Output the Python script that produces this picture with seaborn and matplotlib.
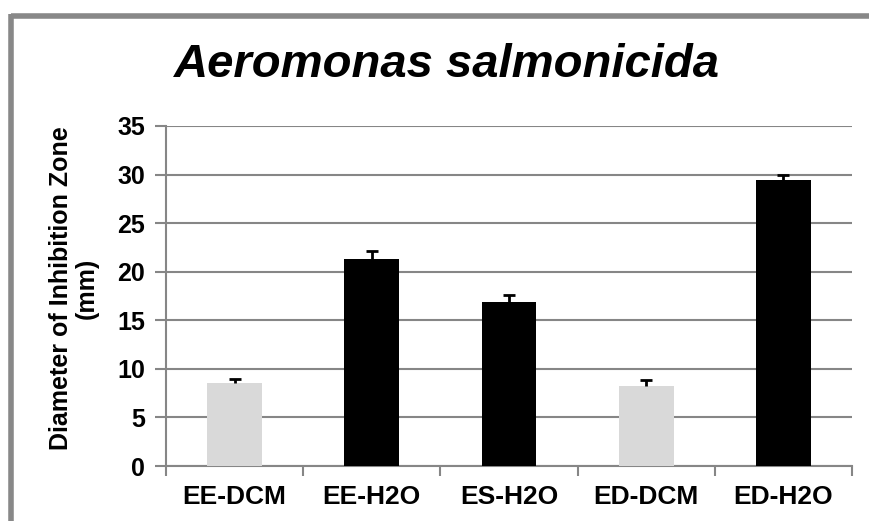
import matplotlib
matplotlib.use("Agg")
import matplotlib.pyplot as plt
from matplotlib.lines import Line2D
import seaborn as sns
import numpy as np

categories = ["EE-DCM", "EE-H2O", "ES-H2O", "ED-DCM", "ED-H2O"]
values = [8.5, 21.3, 16.9, 8.2, 29.4]
errors = [0.5, 0.8, 0.7, 0.7, 0.6]
bar_colors = ["#d9d9d9", "#000000", "#000000", "#d9d9d9", "#000000"]
y_ticks = [0, 5, 10, 15, 20, 25, 30, 35]
title = "Aeromonas salmonicida"
ylabel = "Diameter of Inhibition Zone\n(mm)"

sns.set_theme(style="white")
plt.rcParams["font.family"] = ["Liberation Sans", "DejaVu Sans"]
plt.rcParams["text.color"] = "black"

fig = plt.figure(figsize=(8.69, 5.21), dpi=100)
ax = fig.add_axes([166/869, 1-466/521, (852-166)/869, (466-126)/521])

sns.barplot(x=categories, y=values, hue=categories, palette=bar_colors,
            width=0.4, saturation=1, legend=False, ax=ax, zorder=3, linewidth=0)
pos = np.arange(len(categories))
eb = ax.errorbar(pos, values, yerr=[np.zeros(len(values)), errors], fmt="none",
                 ecolor="black", elinewidth=2, capsize=4.5, capthick=2, zorder=4)
# keep only the upper caps
eb[1][0].set_visible(False)

gc = "#868686"
ax.set_ylim(0, 35)
ax.set_xlim(-0.5, len(categories) - 0.5)
ax.set_yticks(y_ticks)
ax.set_yticklabels([str(t) for t in y_ticks], fontsize=18, fontweight="bold")
ax.yaxis.grid(True, color=gc, linewidth=1.5, zorder=0)
ax.xaxis.grid(False)
ax.set_axisbelow(True)
for s in ["top", "right"]:
    ax.spines[s].set_visible(False)
for s in ["left", "bottom"]:
    ax.spines[s].set_color(gc)
    ax.spines[s].set_linewidth(1.5)
ax.tick_params(axis="y", which="major", length=8, width=1.5, color=gc, left=True,
               pad=7, labelcolor="black")
ax.tick_params(axis="x", which="major", length=0, pad=14, labelcolor="black")
ax.set_xticks(pos)
ax.set_xticklabels(categories, fontsize=19, fontweight="bold")
ax.set_xticks(np.arange(-0.5, len(categories)), minor=True)
ax.tick_params(axis="x", which="minor", length=7, width=1.5, color=gc, bottom=True)
ax.set_xlabel("")
ax.set_ylabel("")

fig.text(74/869, 1-288/521, ylabel, fontsize=18, fontweight="bold", rotation=90,
         ha="center", va="center", linespacing=1.1, multialignment="center")

fig.text(447/869, 1-65/521, title, fontsize=34, fontweight="bold", fontstyle="italic",
         ha="center", va="center")

# outer frame (cropped at right and bottom)
fig.add_artist(Line2D([11/869, 1.0], [1-16/521, 1-16/521], transform=fig.transFigure,
                      color="#888888", linewidth=4, solid_capstyle="butt"))
fig.add_artist(Line2D([11/869, 11/869], [0.0, 1-14/521], transform=fig.transFigure,
                      color="#888888", linewidth=4, solid_capstyle="butt"))

fig.savefig("out.png", dpi=100)
